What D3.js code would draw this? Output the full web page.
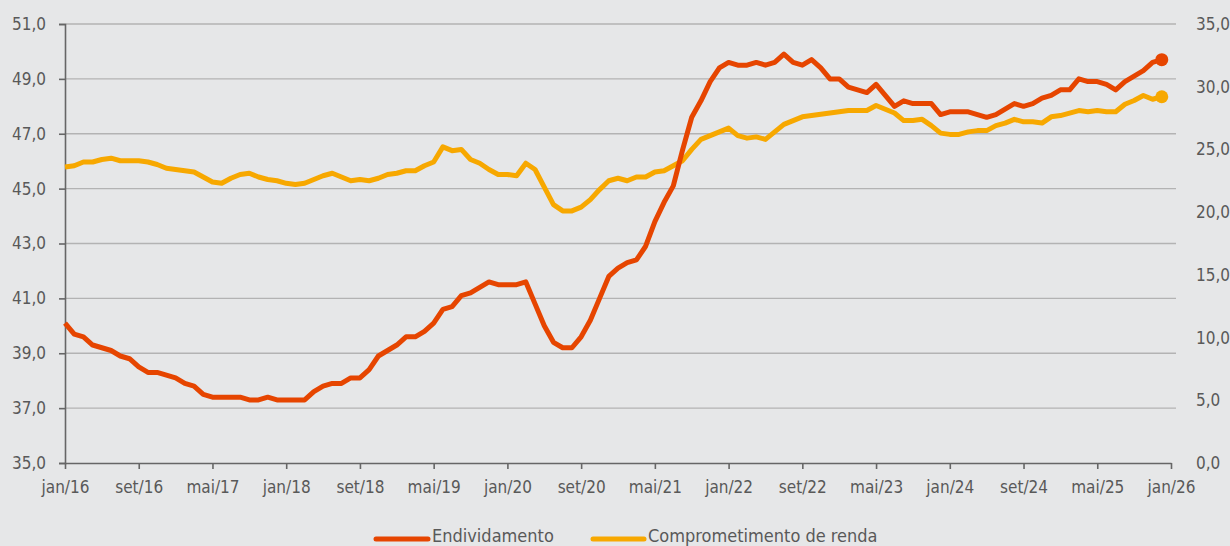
<!DOCTYPE html>
<html>
<head>
<meta charset="utf-8">
<script src="https://cdn.jsdelivr.net/npm/d3@7"></script>
<style>
  html, body { margin: 0; padding: 0; background: #E6E7E8; }
  svg { display: block; }
  text { font-family: "Liberation Sans Narrow", "DejaVu Sans Condensed", "Roboto Condensed", "Open Sans", sans-serif; font-stretch: condensed; fill: #595959; }
</style>
</head>
<body>
<svg id="chart" width="1230" height="546"></svg>
<script>
const seriesNames = ["Endividamento", "Comprometimento de renda"];
const endividamento = [
  40.1, 39.7, 39.6, 39.3, 39.2, 39.1, 38.9, 38.8, 38.5, 38.3,
  38.3, 38.2, 38.1, 37.9, 37.8, 37.5, 37.4, 37.4, 37.4, 37.4,
  37.3, 37.3, 37.4, 37.3, 37.3, 37.3, 37.3, 37.6, 37.8, 37.9,
  37.9, 38.1, 38.1, 38.4, 38.9, 39.1, 39.3, 39.6, 39.6, 39.8,
  40.1, 40.6, 40.7, 41.1, 41.2, 41.4, 41.6, 41.5, 41.5, 41.5,
  41.6, 40.8, 40.0, 39.4, 39.2, 39.2, 39.6, 40.2, 41.0, 41.8,
  42.1, 42.3, 42.4, 42.9, 43.8, 44.5, 45.1, 46.4, 47.6, 48.2,
  48.9, 49.4, 49.6, 49.5, 49.5, 49.6, 49.5, 49.6, 49.9, 49.6,
  49.5, 49.7, 49.4, 49.0, 49.0, 48.7, 48.6, 48.5, 48.8, 48.4,
  48.0, 48.2, 48.1, 48.1, 48.1, 47.7, 47.8, 47.8, 47.8, 47.7,
  47.6, 47.7, 47.9, 48.1, 48.0, 48.1, 48.3, 48.4, 48.6, 48.6,
  49.0, 48.9, 48.9, 48.8, 48.6, 48.9, 49.1, 49.3, 49.6, 49.7
];
const comprometimento = [
  23.6, 23.7, 24.0, 24.0, 24.2, 24.3, 24.1, 24.1, 24.1, 24.0,
  23.8, 23.5, 23.4, 23.3, 23.2, 22.8, 22.4, 22.3, 22.7, 23.0,
  23.1, 22.8, 22.6, 22.5, 22.3, 22.2, 22.3, 22.6, 22.9, 23.1,
  22.8, 22.5, 22.6, 22.5, 22.7, 23.0, 23.1, 23.3, 23.3, 23.7,
  24.0, 25.2, 24.9, 25.0, 24.2, 23.9, 23.4, 23.0, 23.0, 22.9,
  23.9, 23.4, 22.0, 20.6, 20.1, 20.1, 20.4, 21.0, 21.8, 22.5,
  22.7, 22.5, 22.8, 22.8, 23.2, 23.3, 23.7, 24.1, 25.0, 25.8,
  26.1, 26.4, 26.7, 26.1, 25.9, 26.0, 25.8, 26.4, 27.0, 27.3,
  27.6, 27.7, 27.8, 27.9, 28.0, 28.1, 28.1, 28.1, 28.5, 28.2,
  27.9, 27.3, 27.3, 27.4, 26.9, 26.3, 26.2, 26.2, 26.4, 26.5,
  26.5, 26.9, 27.1, 27.4, 27.2, 27.2, 27.1, 27.6, 27.7, 27.9,
  28.1, 28.0, 28.1, 28.0, 28.0, 28.6, 28.9, 29.3, 29.0, 29.2
];
const xTickLabels = ["jan/16","set/16","mai/17","jan/18","set/18","mai/19","jan/20","set/20",
                     "mai/21","jan/22","set/22","mai/23","jan/24","set/24","mai/25","jan/26"];
const leftTicks = [35, 37, 39, 41, 43, 45, 47, 49, 51];
const rightTicks = [0, 5, 10, 15, 20, 25, 30, 35];

const colors = ["#E64500", "#F7A800"];
const fmt = v => v.toFixed(1).replace(".", ",");

const svg = d3.select("#chart");
const mLeft = 65, mRight = 1171, mTop = 24, mBottom = 463;

const x = d3.scaleLinear().domain([0, 120]).range([mLeft, mRight]);
const yL = d3.scaleLinear().domain([35, 51]).range([mBottom, mTop]);
const yR = d3.scaleLinear().domain([0, 35]).range([mBottom, mTop]);

// gridlines
svg.append("g").selectAll("line").data(leftTicks.slice(1)).join("line")
  .attr("x1", mLeft).attr("x2", 1176)
  .attr("y1", d => yL(d)).attr("y2", d => yL(d))
  .attr("stroke", "#B3B3B3").attr("stroke-width", 1.3);

// left axis
const gL = svg.append("g").attr("transform", `translate(${mLeft},0)`)
  .call(d3.axisLeft(yL).tickValues(leftTicks).tickFormat(fmt).tickSize(6).tickPadding(13));
gL.select(".domain").attr("stroke", "#666").attr("stroke-width", 1.6);
gL.selectAll(".tick line").attr("stroke", "#666").attr("stroke-width", 1.6);
gL.selectAll("text").attr("font-size", 17).attr("fill", "#595959");

// right axis (labels only)
const gR = svg.append("g").attr("transform", `translate(${1176},0)`)
  .call(d3.axisRight(yR).tickValues(rightTicks).tickFormat(fmt).tickSize(0).tickPadding(20));
gR.select(".domain").remove();
gR.selectAll("text").attr("font-size", 17).attr("fill", "#595959");

// bottom axis
const gB = svg.append("g").attr("transform", `translate(0,${mBottom})`)
  .call(d3.axisBottom(x).tickValues(d3.range(0, 121, 8))
    .tickFormat((d, i) => xTickLabels[i]).tickSize(6).tickPadding(12).tickSizeOuter(0));
gB.select(".domain").attr("stroke", "#666").attr("stroke-width", 1.6);
gB.selectAll(".tick line").attr("stroke", "#666").attr("stroke-width", 1.6);
gB.selectAll("text").attr("font-size", 17).attr("fill", "#595959");

// lines
const lineL = d3.line().x((d, i) => x(i)).y(d => yL(d));
const lineR = d3.line().x((d, i) => x(i)).y(d => yR(d));

svg.append("path").datum(comprometimento).attr("d", lineR)
  .attr("fill", "none").attr("stroke", colors[1]).attr("stroke-width", 5)
  .attr("stroke-linejoin", "round");
svg.append("path").datum(endividamento).attr("d", lineL)
  .attr("fill", "none").attr("stroke", colors[0]).attr("stroke-width", 5)
  .attr("stroke-linejoin", "round");

// end points
const nE = endividamento.length - 1, nC = comprometimento.length - 1;
svg.append("circle").attr("cx", x(nE)).attr("cy", yL(endividamento[nE])).attr("r", 6.5).attr("fill", colors[0]);
svg.append("circle").attr("cx", x(nC)).attr("cy", yR(comprometimento[nC])).attr("r", 6.5).attr("fill", colors[1]);

// legend
const legend = svg.append("g");
const items = [{x: 376, w: 52}, {x: 593, w: 51}];
seriesNames.forEach((name, i) => {
  const it = items[i];
  legend.append("line").attr("x1", it.x).attr("x2", it.x + it.w)
    .attr("y1", 539).attr("y2", 539)
    .attr("stroke", colors[i]).attr("stroke-width", 5).attr("stroke-linecap", "round");
  legend.append("text").attr("x", it.x + it.w + 4).attr("y", 542)
    .attr("font-size", 18).text(name);
});
</script>
</body>
</html>
